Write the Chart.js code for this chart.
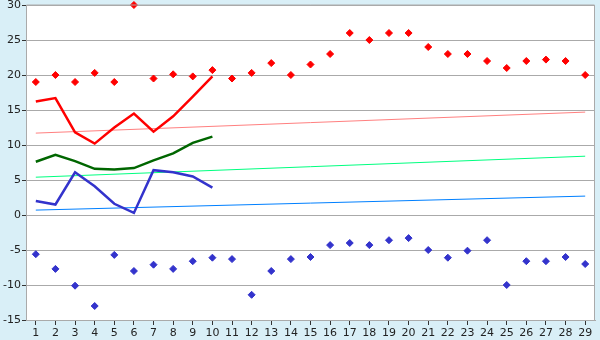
<!DOCTYPE html>
<html>
<head>
<meta charset="utf-8">
<script src="https://cdn.jsdelivr.net/npm/chart.js@4"></script>
<style>
  html, body { margin: 0; padding: 0; background: #d9eff7; }
  #wrap { width: 600px; height: 340px; }
</style>
</head>
<body>
<div id="wrap"><canvas id="chart"></canvas></div>
<script>
// Data

var days = [];
for (var d = 1; d <= 29; d++) days.push(String(d));

var highPoints = [19, 20, 19, 20.3, 19, 30, 19.5, 20.1, 19.8, 20.7, 19.5, 20.3, 21.7, 20,
  21.5, 23, 26, 25, 26, 26, 24, 23, 23, 22, 21, 22, 22.2, 22, 20];
var lowPoints = [-5.6, -7.7, -10.1, -13, -5.7, -8, -7.1, -7.7, -6.6, -6.1, -6.3, -11.4, -8, -6.3,
  -6, -4.3, -4, -4.3, -3.6, -3.3, -5, -6.1, -5.1, -3.6, -10, -6.6, -6.6, -6, -7];

var redLine = [16.2, 16.7, 11.8, 10.2, 12.5, 14.5, 11.9, 14.1, 16.9, 19.8];
var greenLine = [7.6, 8.6, 7.7, 6.6, 6.5, 6.7, 7.8, 8.8, 10.3, 11.2];
var blueLine = [2, 1.5, 6.1, 4.1, 1.6, 0.3, 6.4, 6.1, 5.5, 3.9];

// trend lines: only the two ends
var redTrend = [11.7, 14.7];
var greenTrend = [5.4, 8.4];
var blueTrend = [0.7, 2.7];

var yTicks = [-15, -10, -5, 0, 5, 10, 15, 20, 25, 30];

function ends(pair) {
  var arr = days.map(function () { return null; });
  arr[0] = pair[0];
  arr[arr.length - 1] = pair[1];
  return arr;
}

// background + white plot area + frame
var frame = {
  id: 'frame',
  beforeDraw: function (chart) {
    var c = chart.ctx, a = chart.chartArea;
    c.save();
    c.fillStyle = '#d9eff7';
    c.fillRect(0, 0, chart.width, chart.height);
    c.fillStyle = '#ffffff';
    c.fillRect(a.left, a.top, a.right - a.left, a.bottom - a.top);
    c.restore();
  },
  afterDraw: function (chart) {
    var c = chart.ctx, a = chart.chartArea;
    c.save();
    c.strokeStyle = '#aaaaaa';
    c.lineWidth = 1;
    c.beginPath();
    c.moveTo(Math.round(a.left) + 0.5, a.top);
    c.lineTo(Math.round(a.right) - 0.5, a.top);
    c.lineTo(Math.round(a.right) - 0.5, a.bottom);
    c.stroke();
    c.restore();
  }
};

Chart.defaults.font.family = 'DejaVu Sans';
Chart.defaults.font.size = 11;
Chart.defaults.color = '#222222';

new Chart(document.getElementById('chart'), {
  type: 'line',
  data: {
    labels: days,
    datasets: [
      {
        data: ends(redTrend), borderColor: '#ff8080', borderWidth: 1,
        pointRadius: 0, spanGaps: true, order: 5
      },
      {
        data: ends(greenTrend), borderColor: '#00ff80', borderWidth: 1,
        pointRadius: 0, spanGaps: true, order: 5
      },
      {
        data: ends(blueTrend), borderColor: '#0080ff', borderWidth: 1,
        pointRadius: 0, spanGaps: true, order: 5
      },
      {
        data: redLine, borderColor: '#ff0000', borderWidth: 2.5,
        pointRadius: 0, tension: 0, order: 3
      },
      {
        data: greenLine, borderColor: '#006600', borderWidth: 2.5,
        pointRadius: 0, tension: 0, order: 3
      },
      {
        data: blueLine, borderColor: '#3333cc', borderWidth: 2.5,
        pointRadius: 0, tension: 0, order: 3
      },
      {
        data: highPoints, showLine: false, pointStyle: 'rectRot', pointRadius: 3.5,
        pointBackgroundColor: '#ff0000', pointBorderColor: '#ff0000', order: 1, clip: false
      },
      {
        data: lowPoints, showLine: false, pointStyle: 'rectRot', pointRadius: 3.5,
        pointBackgroundColor: '#3333cc', pointBorderColor: '#3333cc', order: 1, clip: false
      }
    ]
  },
  options: {
    responsive: true,
    maintainAspectRatio: false,
    animation: false,
    layout: { padding: { top: 5, right: 5, left: 0, bottom: 0 } },
    plugins: {
      legend: { display: false },
      tooltip: { enabled: false }
    },
    scales: {
      x: {
        offset: true,
        grid: {
          drawOnChartArea: false,
          drawTicks: true,
          tickLength: 5,
          tickColor: '#333333',
          offset: false
        },
        border: { color: '#aaaaaa' },
        ticks: { padding: 2, maxRotation: 0, autoSkip: false },
        afterFit: function (s) { s.height = 20; }
      },
      y: {
        min: yTicks[0],
        max: yTicks[yTicks.length - 1],
        afterBuildTicks: function (s) {
          s.ticks = yTicks.map(function (v) { return { value: v }; });
        },
        grid: {
          color: '#aaaaaa',
          drawTicks: true,
          tickLength: 4,
          tickColor: '#333333'
        },
        border: { color: '#aaaaaa' },
        ticks: { padding: 1 },
        afterFit: function (s) {
          s.width = 26;
          s.paddingTop = 0;
          s.paddingBottom = 0;
        }
      }
    }
  },
  plugins: [frame]
});
</script>
</body>
</html>
